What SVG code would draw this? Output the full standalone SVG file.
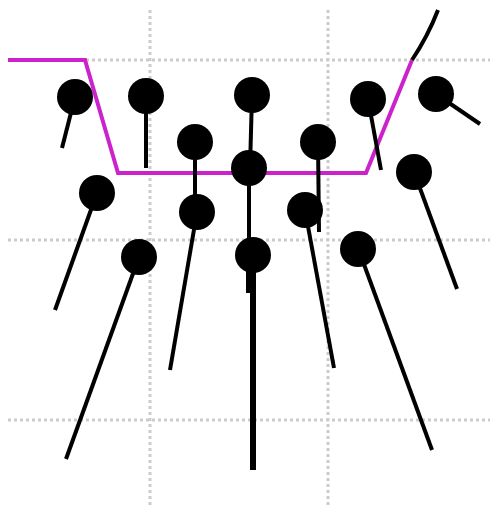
<svg xmlns="http://www.w3.org/2000/svg" width="492" height="506" viewBox="0 0 492 506">
<style>
.grid{stroke:#cccccc;stroke-width:3;stroke-dasharray:3 3;fill:none}
.pin{stroke:#000;stroke-width:4;stroke-linecap:butt;fill:none}
.dot{fill:#000}
.route{stroke:#cc22cc;stroke-width:4;fill:none;stroke-linejoin:miter}
</style>
<rect width="492" height="506" fill="#fff"/>
<g id="grid">
<line class="grid" x1="150" y1="10" x2="150" y2="506"/>
<line class="grid" x1="328" y1="10" x2="328" y2="506"/>
<line class="grid" x1="8" y1="60" x2="490" y2="60"/>
<line class="grid" x1="8" y1="240" x2="490" y2="240"/>
<line class="grid" x1="8" y1="420" x2="490" y2="420"/>
</g>
<g id="connectors">
<polyline class="route" points="8,60 85,60 118,173 366,173 412,60"/>
<path class="pin" d="M412,60 Q428,36 438,10"/>
<line class="pin" x1="75" y1="97" x2="62" y2="148"/>
<line class="pin" x1="146" y1="96" x2="146" y2="168"/>
<line class="pin" x1="195" y1="142" x2="195" y2="212"/>
<line class="pin" x1="197" y1="212" x2="170" y2="370"/>
<line class="pin" x1="97" y1="193" x2="55" y2="310"/>
<line class="pin" x1="139" y1="257" x2="66" y2="459"/>
<line class="pin" x1="252" y1="95" x2="250" y2="168"/>
<line class="pin" x1="249" y1="168" x2="249" y2="245"/>
<line class="pin" x1="253" y1="256" x2="253" y2="470" style="stroke-width:6"/>
<rect x="246" y="270" width="8" height="23" fill="#000"/>
<line class="pin" x1="318" y1="142" x2="319" y2="232"/>
<line class="pin" x1="305" y1="210" x2="334" y2="368"/>
<line class="pin" x1="368" y1="99" x2="381" y2="170"/>
<line class="pin" x1="436" y1="94" x2="480" y2="124"/>
<line class="pin" x1="414" y1="172" x2="457" y2="289"/>
<line class="pin" x1="358" y1="248" x2="432" y2="450"/>
</g>
<g id="n1"><circle class="dot" cx="75" cy="97" r="18"/></g>
<g id="n2"><circle class="dot" cx="146" cy="96" r="18"/></g>
<g id="n3"><circle class="dot" cx="252" cy="95" r="18"/></g>
<g id="n4"><circle class="dot" cx="368" cy="99" r="18"/></g>
<g id="n5"><circle class="dot" cx="436" cy="94" r="18"/></g>
<g id="n6"><circle class="dot" cx="195" cy="142" r="18"/></g>
<g id="n7"><circle class="dot" cx="318" cy="142" r="18"/></g>
<g id="n8"><circle class="dot" cx="249" cy="168" r="18"/></g>
<g id="n9"><circle class="dot" cx="97" cy="193" r="18"/></g>
<g id="n10"><circle class="dot" cx="414" cy="172" r="18"/></g>
<g id="n11"><circle class="dot" cx="197" cy="212" r="18"/></g>
<g id="n12"><circle class="dot" cx="305" cy="210" r="18"/></g>
<g id="n13"><circle class="dot" cx="139" cy="257" r="18"/></g>
<g id="n14"><circle class="dot" cx="253" cy="255" r="18"/></g>
<g id="n15"><circle class="dot" cx="358" cy="249" r="18"/></g>
</svg>
